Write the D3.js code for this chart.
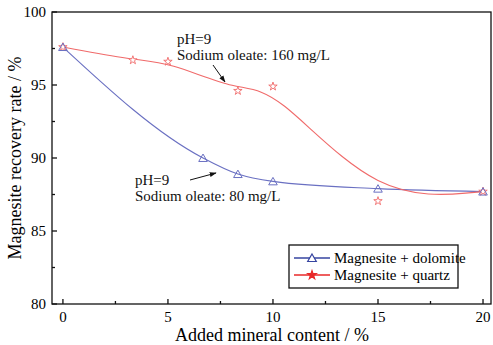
<!DOCTYPE html>
<html>
<head>
<meta charset="utf-8">
<script src="https://cdn.jsdelivr.net/npm/d3@7"></script>
<style>
  body { margin: 0; background: #fff; }
</style>
</head>
<body>
<svg id="chart" width="493" height="345"></svg>
<script>
// data
const dolomiteX = [0, 6.67, 8.33, 10, 15, 20];
const dolomiteY = [97.6, 90.0, 88.9, 88.4, 87.9, 87.7];
const quartzX   = [0, 3.33, 5, 8.33, 10, 15, 20];
const quartzY   = [97.6, 96.7, 96.6, 94.6, 94.9, 87.05, 87.7];
const xTicks = [0, 5, 10, 15, 20];
const yTicks = [80, 85, 90, 95, 100];
const seriesNames = ["Magnesite + dolomite", "Magnesite + quartz"];

const blue = "#6a70c2", red = "#f06a6a";
const blueDark = "#3644a0", redDark = "#e82828";

const svg = d3.select("#chart")
  .attr("font-family", "'Liberation Serif', 'Times New Roman', 'DejaVu Serif', serif");
const plotL = 52, plotR = 491, plotT = 12, plotB = 304;

const x = d3.scaleLinear().domain([-0.52, 20.38]).range([plotL, plotR]);
const y = d3.scaleLinear().domain([80, 100]).range([plotB, plotT]);

// frame
svg.append("rect")
  .attr("x", plotL).attr("y", plotT)
  .attr("width", plotR - plotL).attr("height", plotB - plotT)
  .attr("fill", "none").attr("stroke", "#111").attr("stroke-width", 1.3);

// x axis ticks (inward)
const xMinor = d3.range(0, 20.1, 2.5);
svg.append("g").selectAll("line").data(xMinor).enter().append("line")
  .attr("x1", d => x(d)).attr("x2", d => x(d))
  .attr("y1", plotB).attr("y2", d => plotB - (d % 5 === 0 ? 5 : 3))
  .attr("stroke", "#111").attr("stroke-width", 1.3);
svg.append("g").selectAll("text").data(xTicks).enter().append("text")
  .attr("x", d => x(d)).attr("y", 322)
  .attr("text-anchor", "middle").attr("font-size", "15px")
  .text(d => d);

// y axis ticks (inward)
const yMinor = d3.range(80, 100.1, 2.5);
svg.append("g").selectAll("line").data(yMinor).enter().append("line")
  .attr("x1", plotL).attr("x2", d => plotL + (d % 5 === 0 ? 5 : 3))
  .attr("y1", d => y(d)).attr("y2", d => y(d))
  .attr("stroke", "#111").attr("stroke-width", 1.3);
svg.append("g").selectAll("text").data(yTicks).enter().append("text")
  .attr("x", 46).attr("y", d => y(d)).attr("dy", "0.35em")
  .attr("text-anchor", "end").attr("font-size", "15px")
  .text(d => d);

// axis titles
svg.append("text")
  .attr("x", 272).attr("y", 341)
  .attr("text-anchor", "middle").attr("font-size", "18px")
  .text("Added mineral content / %");
svg.append("text")
  .attr("transform", `translate(21,${(plotT + plotB) / 2}) rotate(-90)`)
  .attr("text-anchor", "middle").attr("font-size", "18px")
  .text("Magnesite recovery rate / %");

// curves
const blueLine = d3.line().curve(d3.curveMonotoneX)
  .x((d, i) => x(dolomiteX[i])).y(d => y(d));
const redLine = d3.line().curve(d3.curveBasis)
  .x((d, i) => x(quartzX[i])).y(d => y(d));

svg.append("path").datum(dolomiteY)
  .attr("d", blueLine).attr("fill", "none")
  .attr("stroke", blue).attr("stroke-width", 1.1);
svg.append("path").datum(quartzY)
  .attr("d", redLine).attr("fill", "none")
  .attr("stroke", red).attr("stroke-width", 1.1);

const tri = d3.symbol().type(d3.symbolTriangle).size(32);
const star = d3.symbol().type(d3.symbolStar).size(22);

svg.append("g").selectAll("path").data(quartzY).enter().append("path")
  .attr("d", star)
  .attr("transform", (d, i) => `translate(${x(quartzX[i])},${y(d)})`)
  .attr("fill", "#fff").attr("stroke", red).attr("stroke-width", 0.9);
svg.append("g").selectAll("path").data(dolomiteY).enter().append("path")
  .attr("d", tri)
  .attr("transform", (d, i) => `translate(${x(dolomiteX[i])},${y(d) + 1})`)
  .attr("fill", "none").attr("stroke", blue).attr("stroke-width", 1);

// annotations
svg.append("defs").append("marker")
  .attr("id", "arrow").attr("viewBox", "0 0 10 10")
  .attr("refX", 9).attr("refY", 5)
  .attr("markerWidth", 7).attr("markerHeight", 7)
  .attr("orient", "auto")
  .append("path").attr("d", "M0,1.5 L10,5 L0,8.5 Z").attr("fill", "#111");

function note(lines, tx, ty, a) {
  const t = svg.append("text").attr("font-size", "15px").attr("fill", "#111");
  lines.forEach((s, i) => {
    t.append("tspan").attr("x", tx).attr("y", ty + i * 15.5).text(s);
  });
  svg.append("line")
    .attr("x1", a[0]).attr("y1", a[1]).attr("x2", a[2]).attr("y2", a[3])
    .attr("stroke", "#111").attr("stroke-width", 1)
    .attr("marker-end", "url(#arrow)");
}
note(["pH=9", "Sodium oleate: 160 mg/L"], 177, 44, [213, 65, 225, 82]);
note(["pH=9", "Sodium oleate: 80 mg/L"], 135, 185, [190, 180, 216, 173]);

// legend
const lg = svg.append("g");
lg.append("rect")
  .attr("x", 289).attr("y", 245).attr("width", 169).attr("height", 43)
  .attr("fill", "#fff").attr("stroke", "#111").attr("stroke-width", 1.3);
const legendColors = [blueDark, redDark];
seriesNames.forEach((name, i) => {
  const ly = 258 + i * 17;
  lg.append("line").attr("x1", 294).attr("x2", 330)
    .attr("y1", ly).attr("y2", ly)
    .attr("stroke", legendColors[i]).attr("stroke-width", 1.3);
  lg.append("path")
    .attr("d", i === 0 ? tri() : star())
    .attr("transform", `translate(312,${ly + (i === 0 ? 1 : 0)})`)
    .attr("fill", i === 0 ? "#fff" : legendColors[i])
    .attr("stroke", legendColors[i]).attr("stroke-width", 1.2);
  lg.append("text").attr("x", 334).attr("y", ly).attr("dy", "0.35em")
    .attr("font-size", "15px").text(name);
});
</script>
</body>
</html>
